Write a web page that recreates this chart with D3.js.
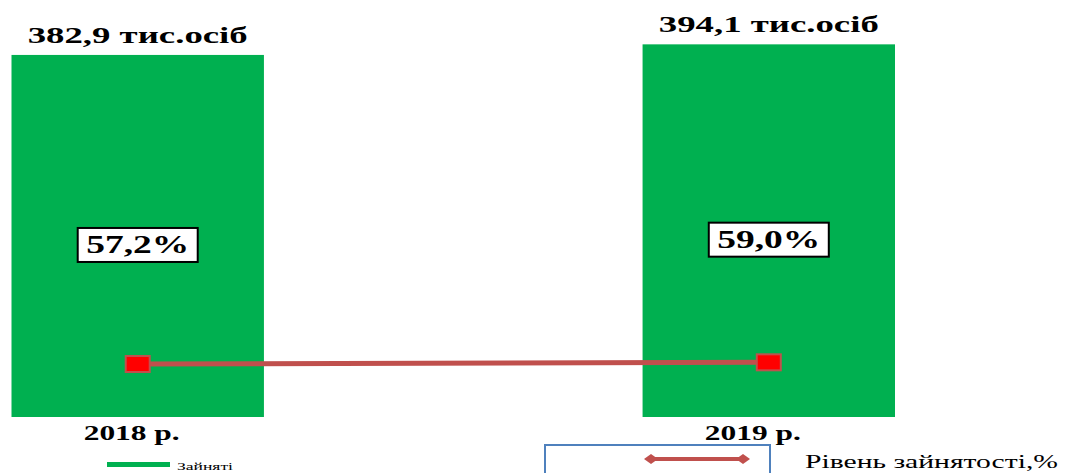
<!DOCTYPE html>
<html>
<head>
<meta charset="utf-8">
<script src="https://cdn.jsdelivr.net/npm/d3@7"></script>
<style>
  body { margin: 0; background: #fff; }
  svg text { font-family: "Liberation Serif", "DejaVu Serif", serif; }
</style>
</head>
<body>
<div id="chart"></div>
<script>
// data
var years = ["2018 р.", "2019 р."];
var employed = [382.9, 394.1];          // тис. осіб
var employedLabels = ["382,9 тис.осіб", "394,1 тис.осіб"];
var rate = [57.2, 59.0];                // %
var rateLabels = ["57,2%", "59,0%"];

var W = 1072, H = 473;
var green = "#00b050", lineCol = "#c0504d";

var svg = d3.select("#chart").append("svg")
  .attr("width", W)
  .attr("height", H);

var x = d3.scaleBand()
  .domain(years)
  .range([11.5, 895])
  .paddingInner(0.6)
  .paddingOuter(0);

var y = d3.scaleLinear().domain([0, 441]).range([417, 0]);
// secondary axis for the rate line
var y2 = d3.scaleLinear().domain([0, 450]).range([417, 0]);

var bw = x.bandwidth();
var cx = function(i){ return x(years[i]) + bw / 2; };

// bars
svg.selectAll("rect.bar")
  .data(employed)
  .enter().append("rect")
    .attr("class", "bar")
    .attr("x", function(d, i){ return x(years[i]); })
    .attr("y", function(d){ return y(d); })
    .attr("width", bw)
    .attr("height", function(d){ return y(0) - y(d); })
    .attr("fill", green);

// value labels above bars
svg.selectAll("text.val")
  .data(employed)
  .enter().append("text")
    .attr("class", "val")
    .attr("x", function(d, i){ return cx(i); })
    .attr("y", function(d){ return y(d) - 12; })
    .attr("text-anchor", "middle")
    .attr("font-family", "Liberation Serif")
    .attr("font-size", 23)
    .attr("font-weight", "bold")
    .attr("textLength", 220)
    .attr("lengthAdjust", "spacingAndGlyphs")
    .text(function(d, i){ return employedLabels[i]; });

// percentage boxes
var boxes = svg.selectAll("g.pct")
  .data(rate)
  .enter().append("g")
    .attr("class", "pct")
    .attr("transform", function(d, i){
      var mid = (y(employed[i]) + y(0)) / 2 + 9;
      return "translate(" + cx(i) + "," + mid + ")";
    });
boxes.append("rect")
  .attr("x", -60).attr("y", -17)
  .attr("width", 120).attr("height", 34)
  .attr("fill", "#fff")
  .attr("stroke", "#000")
  .attr("stroke-width", 2);
boxes.append("text")
  .attr("text-anchor", "middle")
  .attr("y", 8)
  .attr("font-family", "Liberation Serif")
  .attr("font-size", 26)
  .attr("font-weight", "bold")
  .attr("textLength", 103)
  .attr("lengthAdjust", "spacingAndGlyphs")
  .text(function(d, i){ return rateLabels[i]; });

// rate line
var line = d3.line()
  .x(function(d, i){ return cx(i); })
  .y(function(d){ return y2(d); });
svg.append("path")
  .datum(rate)
  .attr("d", line)
  .attr("fill", "none")
  .attr("stroke", lineCol)
  .attr("stroke-width", 5);
svg.selectAll("rect.mk")
  .data(rate)
  .enter().append("rect")
    .attr("class", "mk")
    .attr("x", function(d, i){ return cx(i) - 12; })
    .attr("y", function(d){ return y2(d) - 8; })
    .attr("width", 24)
    .attr("height", 16)
    .attr("fill", "#ff0000")
    .attr("stroke", lineCol)
    .attr("stroke-width", 2);

// category labels
var labShift = [-6, -16];
svg.selectAll("text.cat")
  .data(years)
  .enter().append("text")
    .attr("class", "cat")
    .attr("x", function(d, i){ return cx(i) + labShift[i]; })
    .attr("y", 440)
    .attr("text-anchor", "middle")
    .attr("font-family", "Liberation Serif")
    .attr("font-size", 21)
    .attr("font-weight", "bold")
    .attr("textLength", 96)
    .attr("lengthAdjust", "spacingAndGlyphs")
    .text(function(d){ return d; });

// legend: bars
svg.append("rect")
  .attr("x", 107).attr("y", 462)
  .attr("width", 63).attr("height", 5)
  .attr("fill", green);
svg.append("text")
  .attr("x", 177).attr("y", 470)
  .attr("font-family", "Liberation Serif")
  .attr("font-size", 11)
  .attr("textLength", 56)
  .attr("lengthAdjust", "spacingAndGlyphs")
  .text("Зайняті");

// legend: line
svg.append("rect")
  .attr("x", 545).attr("y", 445)
  .attr("width", 225).attr("height", 40)
  .attr("fill", "#fff")
  .attr("stroke", "#4f81bd")
  .attr("stroke-width", 2);
svg.append("line")
  .attr("x1", 651).attr("x2", 743)
  .attr("y1", 459).attr("y2", 459)
  .attr("stroke", lineCol)
  .attr("stroke-width", 4);
svg.selectAll("path.dia")
  .data([651, 743])
  .enter().append("path")
    .attr("class", "dia")
    .attr("d", function(d){ return "M" + (d - 7) + ",459L" + d + ",454L" + (d + 7) + ",459L" + d + ",464Z"; })
    .attr("fill", lineCol);
svg.append("text")
  .attr("x", 805).attr("y", 468)
  .attr("font-family", "Liberation Serif")
  .attr("font-size", 19)
  .attr("textLength", 253)
  .attr("lengthAdjust", "spacingAndGlyphs")
  .text("Рівень зайнятості,%");
</script>
</body>
</html>
